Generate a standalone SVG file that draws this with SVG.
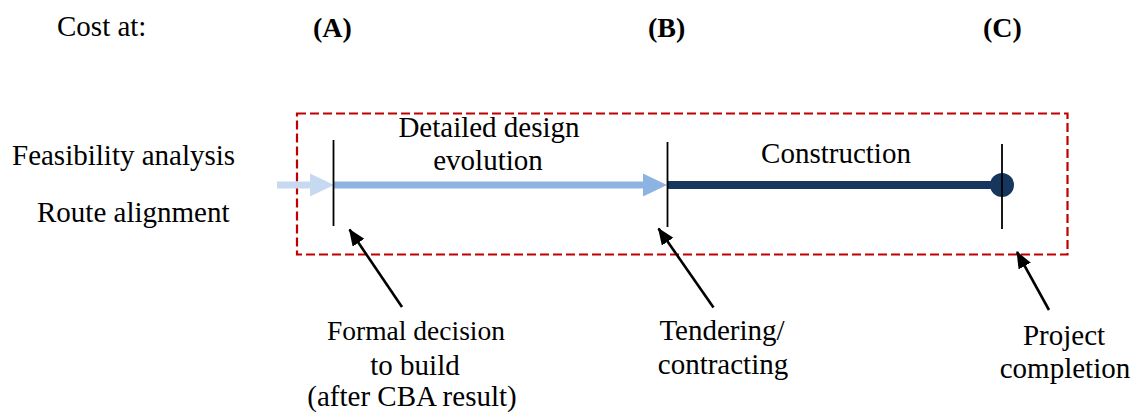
<svg xmlns="http://www.w3.org/2000/svg" width="1131" height="414" viewBox="0 0 1131 414">
<style>
text{font-family:"Liberation Serif","Times New Roman",serif;font-size:29px;fill:#000}
.b{font-weight:bold;font-size:28px}
.c{text-anchor:middle}
.tick{stroke:#000;stroke-width:1.8;fill:none}
.ptr{stroke:#000;stroke-width:2.6;fill:none}
</style>
<defs>
<marker id="ah" markerUnits="userSpaceOnUse" markerWidth="18" markerHeight="16" refX="16" refY="7" orient="auto">
<path d="M0,0 L17,7 L0,14 Z" fill="#000"/>
</marker>
</defs>
<g id="header">
<text x="57" y="35.5">Cost at:</text>
<text class="b" x="313" y="37">(A)</text>
<text class="b" x="648" y="37">(B)</text>
<text class="b" x="983" y="37">(C)</text>
</g>
<g id="scope-box">
<rect x="297" y="113.5" width="770.5" height="141" fill="none" stroke="#C00000" stroke-width="2.2" stroke-dasharray="9,4"/>
</g>
<g id="pre-phase">
<text x="12" y="165">Feasibility analysis</text>
<text x="37" y="221.5">Route alignment</text>
<rect x="277" y="181.5" width="34" height="7" fill="#C6D9F1"/>
<path d="M310,173.5 L334,185 L310,196.5 Z" fill="#C6D9F1"/>
</g>
<g id="design-phase">
<text class="c" x="489" y="136.5">Detailed design</text>
<text class="c" x="488" y="170">evolution</text>
<rect x="334" y="181.5" width="310" height="7" fill="#8DB3E2"/>
<path d="M643,173.5 L667,185 L643,196.5 Z" fill="#8DB3E2"/>
</g>
<g id="construction-phase">
<text class="c" x="836" y="163">Construction</text>
<rect x="668" y="181" width="334" height="8" fill="#17365D"/>
<circle cx="1002" cy="185" r="12" fill="#17365D"/>
</g>
<g id="milestone-A">
<line class="tick" x1="333.5" y1="140" x2="333.5" y2="226"/>
<text class="c" x="416" y="340" style="font-size:27.5px">Formal decision</text>
<text class="c" x="415" y="375">to build</text>
<text class="c" x="412" y="406">(after CBA result)</text>
</g>
<g id="milestone-B">
<line class="tick" x1="667.5" y1="142" x2="667.5" y2="227"/>
<text class="c" x="722" y="340">Tendering/</text>
<text class="c" x="723" y="374">contracting</text>
</g>
<g id="milestone-C">
<line class="tick" x1="1002" y1="144" x2="1002" y2="229"/>
<text class="c" x="1064" y="345">Project</text>
<text class="c" x="1065" y="378">completion</text>
</g>
<g id="connectors">
<line class="ptr" x1="402" y1="307" x2="349.5" y2="229.5" marker-end="url(#ah)"/>
<line class="ptr" x1="713.5" y1="307.5" x2="658.5" y2="228.5" marker-end="url(#ah)"/>
<line class="ptr" x1="1049" y1="310" x2="1017" y2="252" marker-end="url(#ah)"/>
</g>
</svg>
